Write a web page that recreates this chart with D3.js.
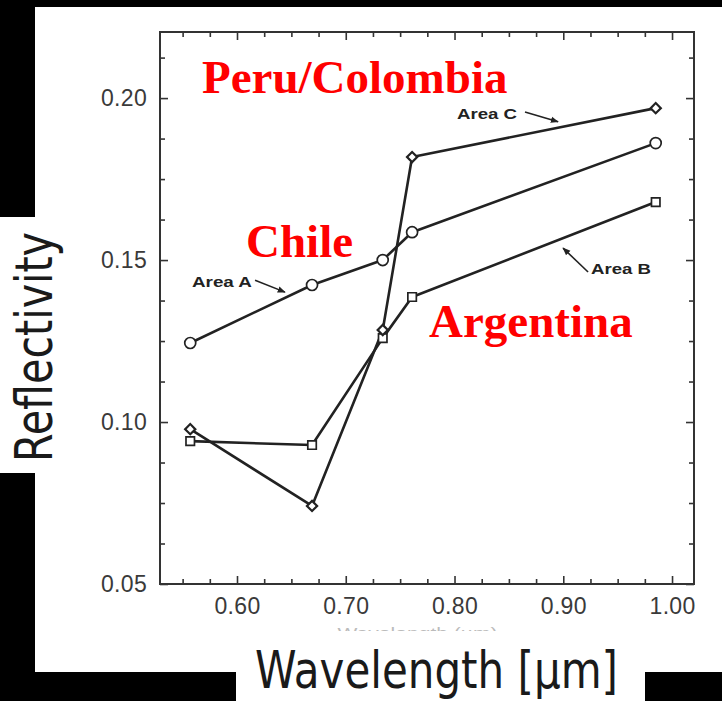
<!DOCTYPE html>
<html>
<head>
<meta charset="utf-8">
<script src="https://cdn.jsdelivr.net/npm/d3@7"></script>
<style>
  html, body { margin: 0; padding: 0; background: #000; }
  svg { display: block; }
</style>
</head>
<body>
<svg id="chart" width="722" height="701"></svg>
<script>
// ---------- data ----------
const wavelengths = [0.557, 0.669, 0.734, 0.761, 0.985];
const areaA = [0.1244, 0.1423, 0.1500, 0.1586, 0.1861];
const areaB = [0.0941, 0.0929, 0.1259, 0.1386, 0.1679];
const areaC = [0.0978, 0.0741, 0.1284, 0.1818, 0.1969];
const seriesNames = ["Area A", "Area B", "Area C"];
const xTickValues = [0.60, 0.70, 0.80, 0.90, 1.00];
const yTickValues = [0.05, 0.10, 0.15, 0.20];
const xLabel = "Wavelength [μm]";
const yLabel = "Reflectivity";
const regionLabels = ["Peru/Colombia", "Chile", "Argentina"];
// annotation anchors in data units (wavelength, reflectivity)
const regionAnchors = [[0.5678, 0.2015], [0.6083, 0.1509], [0.7766, 0.1262]];
const areaTextAnchors = [[0.5586, 0.1432], [0.9255, 0.1472], [0.8023, 0.1951]];
const areaArrows = [
  [[0.6166, 0.1438], [0.6441, 0.1401]],
  [[0.9228, 0.1463], [0.8998, 0.1537]],
  [[0.8648, 0.1957], [0.8952, 0.1927]]
];

// ---------- layout ----------
const svg = d3.select("#chart");
const x = d3.scaleLinear().domain([0.5292, 1.0202]).range([160, 694]);
const y = d3.scaleLinear().domain([0.05, 0.2204]).range([584, 32]);

// background (black frame with white page regions)
svg.append("rect").attr("width", 722).attr("height", 701).attr("fill", "#000");
svg.append("rect").attr("x", 35).attr("y", 7).attr("width", 687).attr("height", 665).attr("fill", "#fff");
svg.append("rect").attr("x", 0).attr("y", 217).attr("width", 36).attr("height", 256).attr("fill", "#fff");
svg.append("rect").attr("x", 236).attr("y", 671).attr("width", 409).attr("height", 30).attr("fill", "#fff");

const ink = "#222";
const tickInk = "#333";

// minor ticks
const xMinor = d3.range(0.55, 1.0001, 0.025).filter(v => !xTickValues.some(t => Math.abs(t - v) < 1e-6));
const yMinor = d3.range(0.0625, 0.2201, 0.0125).filter(v => !yTickValues.some(t => Math.abs(t - v) < 1e-6));

function styleAxis(g) {
  g.select(".domain").remove();
  g.selectAll(".tick line").attr("stroke", tickInk).attr("stroke-width", 1.6);
  g.selectAll(".tick text").attr("fill", "#3a3a3a")
    .attr("font-family", "'Liberation Sans', Arial, sans-serif").attr("font-size", 23)
    .attr("letter-spacing", 0.3);
}

// bottom
svg.append("g").attr("transform", "translate(0,584)")
  .call(d3.axisBottom(x).tickValues(xTickValues).tickFormat(d3.format(".2f")).tickSizeInner(-8).tickSizeOuter(0).tickPadding(14))
  .call(styleAxis);
svg.append("g").attr("transform", "translate(0,584)")
  .call(d3.axisBottom(x).tickValues(xMinor).tickFormat("").tickSizeInner(-5).tickSizeOuter(0))
  .call(styleAxis);
// top
svg.append("g").attr("transform", "translate(0,32)")
  .call(d3.axisTop(x).tickValues(xTickValues).tickFormat("").tickSizeInner(-8).tickSizeOuter(0))
  .call(styleAxis);
svg.append("g").attr("transform", "translate(0,32)")
  .call(d3.axisTop(x).tickValues(xMinor).tickFormat("").tickSizeInner(-5).tickSizeOuter(0))
  .call(styleAxis);
// left
svg.append("g").attr("transform", "translate(160,0)")
  .call(d3.axisLeft(y).tickValues(yTickValues).tickFormat(d3.format(".2f")).tickSizeInner(-8).tickSizeOuter(0).tickPadding(13))
  .call(styleAxis);
svg.append("g").attr("transform", "translate(160,0)")
  .call(d3.axisLeft(y).tickValues(yMinor).tickFormat("").tickSizeInner(-5).tickSizeOuter(0))
  .call(styleAxis);
// right
svg.append("g").attr("transform", "translate(694,0)")
  .call(d3.axisRight(y).tickValues(yTickValues).tickFormat("").tickSizeInner(-8).tickSizeOuter(0))
  .call(styleAxis);
svg.append("g").attr("transform", "translate(694,0)")
  .call(d3.axisRight(y).tickValues(yMinor).tickFormat("").tickSizeInner(-5).tickSizeOuter(0))
  .call(styleAxis);

// frame
svg.append("rect").attr("x", 160).attr("y", 32).attr("width", 534).attr("height", 552)
  .attr("fill", "none").attr("stroke", tickInk).attr("stroke-width", 2);

// faint remnant of original axis title (mostly covered)
const defs = svg.append("defs");
defs.append("clipPath").attr("id", "remnant")
  .append("rect").attr("x", 300).attr("y", 620).attr("width", 260).attr("height", 11);
svg.append("text").attr("clip-path", "url(#remnant)")
  .attr("x", x(0.766)).attr("y", 638).attr("text-anchor", "middle")
  .attr("font-family", "'Liberation Sans', Arial, sans-serif").attr("font-size", 14)
  .attr("textLength", 160).attr("lengthAdjust", "spacingAndGlyphs")
  .attr("fill", "#bbb").text("Wavelength (µm)");

// ---------- series ----------
const seriesValues = [areaA, areaB, areaC];
const symbols = [d3.symbolCircle, d3.symbolSquare, d3.symbolSquare];
const symbolSizes = [95, 72, 52];
const symbolRot = [0, 0, 45];
const line = d3.line().x(d => x(d[0])).y(d => y(d[1]));

seriesValues.forEach((vals, i) => {
  const pts = wavelengths.map((w, j) => [w, vals[j]]);
  svg.append("path").datum(pts).attr("d", line)
    .attr("fill", "none").attr("stroke", ink).attr("stroke-width", 2.6)
    .attr("stroke-linejoin", "round");
});
seriesValues.forEach((vals, i) => {
  const pts = wavelengths.map((w, j) => [w, vals[j]]);
  svg.append("g").selectAll("path").data(pts).join("path")
    .attr("transform", d => `translate(${x(d[0])},${y(d[1])}) rotate(${symbolRot[i]})`)
    .attr("d", d3.symbol().type(symbols[i]).size(symbolSizes[i]))
    .attr("fill", "#fff").attr("stroke", ink).attr("stroke-width", i === 2 ? 2.2 : 1.7);
});

// ---------- annotations ----------
defs.append("marker").attr("id", "arrow").attr("viewBox", "0 0 10 10")
  .attr("refX", 9).attr("refY", 5).attr("markerWidth", 8).attr("markerHeight", 8)
  .attr("markerUnits", "userSpaceOnUse").attr("orient", "auto")
  .append("path").attr("d", "M0,1 L10,5 L0,9 Z").attr("fill", ink);

seriesNames.forEach((name, i) => {
  const t = areaTextAnchors[i];
  svg.append("text").attr("x", x(t[0])).attr("y", y(t[1])).attr("dy", "0.36em")
    .attr("font-family", "'Liberation Sans', Arial, sans-serif").attr("font-size", 14.5)
    .attr("font-weight", "bold")
    .attr("textLength", 60).attr("lengthAdjust", "spacingAndGlyphs")
    .attr("fill", ink).text(name);
  const a = areaArrows[i];
  svg.append("line").attr("x1", x(a[0][0])).attr("y1", y(a[0][1]))
    .attr("x2", x(a[1][0])).attr("y2", y(a[1][1]))
    .attr("stroke", ink).attr("stroke-width", 1.6).attr("marker-end", "url(#arrow)");
});

regionLabels.forEach((name, i) => {
  const p = regionAnchors[i];
  svg.append("text").attr("x", x(p[0])).attr("y", y(p[1]))
    .attr("font-family", "'Liberation Serif', 'Times New Roman', serif")
    .attr("font-weight", "bold").attr("font-size", 47).attr("fill", "#ff0000")
    .text(name);
});

// ---------- axis titles ----------
svg.append("text").attr("x", 255).attr("y", 688)
  .attr("font-family", "'DejaVu Sans', Verdana, sans-serif").attr("font-size", 51)
  .attr("textLength", 363).attr("lengthAdjust", "spacingAndGlyphs")
  .attr("fill", "#1a1a1a").text(xLabel);

svg.append("text").attr("transform", "translate(52,462) rotate(-90)")
  .attr("font-family", "'DejaVu Sans', Verdana, sans-serif").attr("font-size", 51)
  .attr("textLength", 230).attr("lengthAdjust", "spacingAndGlyphs")
  .attr("fill", "#1a1a1a").text(yLabel);
</script>
</body>
</html>
